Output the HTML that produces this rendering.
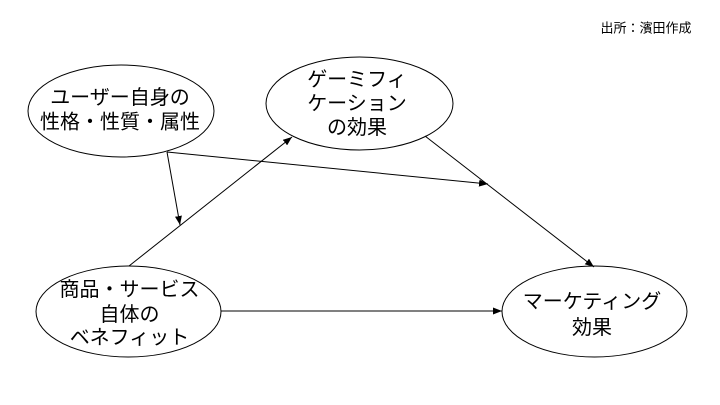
<!DOCTYPE html>
<html><head><meta charset="utf-8"><style>
html,body{margin:0;padding:0;background:#fff;}
svg{display:block;}
text{font-family:"Liberation Sans","Noto Sans CJK JP",sans-serif;fill:#000;}
</style></head><body>
<svg width="720" height="405" viewBox="0 0 720 405" xmlns="http://www.w3.org/2000/svg">
<defs>
<marker id="a" markerWidth="9" markerHeight="7" refX="9" refY="3.5" orient="auto" markerUnits="userSpaceOnUse">
<path d="M0,0 L9,3.5 L0,7 z" fill="#000"/>
</marker>
</defs>
<rect width="720" height="405" fill="#fff"/>
<text x="646" y="28" font-size="13" text-anchor="middle" dominant-baseline="central">出所：濱田作成</text>

<g fill="none" stroke="#000" stroke-width="1">
<ellipse cx="121" cy="111" rx="93" ry="46"/>
<ellipse cx="359.5" cy="103.5" rx="93.5" ry="46.5"/>
<ellipse cx="128.5" cy="311.5" rx="92.5" ry="45.5"/>
<ellipse cx="594.5" cy="311.5" rx="92.5" ry="45.5"/>
<line x1="167" y1="152" x2="180" y2="225" marker-end="url(#a)"/>
<line x1="167" y1="152" x2="488" y2="184" marker-end="url(#a)"/>
<line x1="129" y1="266" x2="292" y2="137" marker-end="url(#a)"/>
<line x1="425" y1="136" x2="594" y2="267" marker-end="url(#a)"/>
<line x1="221" y1="311" x2="502" y2="311" marker-end="url(#a)"/>
</g>

<g font-size="20" text-anchor="middle" dominant-baseline="central">
<text x="120" y="98">ユーザー自身の</text>
<text x="120" y="122.5">性格・性質・属性</text>
<text x="357" y="80">ゲーミフィ</text>
<text x="357" y="104">ケーション</text>
<text x="357" y="128">の効果</text>
<text x="129.5" y="290">商品・サービス</text>
<text x="129.5" y="315">自体の</text>
<text x="129.5" y="338">ベネフィット</text>
<text x="592" y="302">マーケティング</text>
<text x="592" y="328">効果</text>
</g>
</svg>
</body></html>
